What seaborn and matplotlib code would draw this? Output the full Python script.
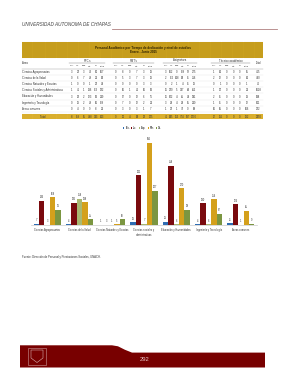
import numpy as np
import pandas as pd
import matplotlib
matplotlib.use("Agg")
import matplotlib.pyplot as plt
import seaborn as sns
from matplotlib.patches import Rectangle, Polygon

# ---------------- data ----------------
areas = ["Ciencias Agropecuarias", "Ciencias de la Salud", "Ciencias Naturales y Exactas",
         "Ciencias Sociales y Administrativas", "Educación y Humanidades",
         "Ingeniería y Tecnología", "Áreas comunes"]
area_ticks = ["Ciencias Agropecuarias", "Ciencias de la Salud", "Ciencias Naturales y Exactas",
              "Ciencias sociales y\nadministrativas", "Educación y Humanidades",
              "Ingeniería y Tecnología", "Áreas comunes"]
niveles = ["Tec.", "Lic.", "Esp.", "Mtr.", "Dr."]
tec = [7, 4, 1, 18, 21, 4, 11]
lic = [146, 135, 3, 301, 358, 130, 126]
esp = [3, 158, 1, 7, 6, 6, 1]
mtr = [168, 138, 5, 495, 220, 154, 85]
dr = [91, 35, 36, 207, 93, 67, 9]
colors = ["#2f6db3", "#7a0a0e", "#a9b872", "#d4a01c", "#7b9641"]

# table (Tec, Lic, Esp, Mtr, Dr) per area
ptc_rows = [[3, 22, 3, 43, 36], [0, 6, 7, 48, 21], [1, 0, 0, 1, 22], [1, 41, 1, 136, 113],
            [3, 28, 2, 123, 63], [0, 18, 2, 48, 50], [0, 4, 0, 9, 8]]
pmt_rows = [[0, 8, 0, 7, 3], [0, 5, 3, 7, 3], [0, 0, 0, 0, 3], [0, 10, 1, 42, 10],
            [0, 57, 0, 12, 6], [0, 7, 0, 12, 2], [0, 3, 0, 3, 1]]
asig_rows = [[3, 102, 0, 118, 52], [2, 112, 148, 83, 11], [0, 2, 1, 4, 11], [16, 230, 5, 317, 84],
             [16, 262, 4, 85, 24], [3, 94, 4, 94, 15], [1, 23, 1, 73, 0]]
ta_rows = [[1, 14, 0, 0, 0], [2, 12, 0, 0, 0], [0, 1, 0, 0, 0], [1, 20, 0, 0, 0],
           [2, 11, 0, 0, 0], [1, 11, 0, 0, 0], [10, 96, 0, 0, 0]]
group_names = ["PTC's", "PMT's", "Asignatura", "Técnico académico"]
sub_headers = ["Tec.", "Lic.", "Esp.", "Mtr.", "Dr.", "Total"]

# ---------------- figure ----------------
W, H = 291, 380
fig = plt.figure(figsize=(W / 100, H / 100), dpi=100)
fig.patch.set_facecolor("white")
FONT = ["Liberation Sans", "DejaVu Sans"]

page = fig.add_axes([0, 0, 1, 1])
page.set_xlim(0, W)
page.set_ylim(H, 0)
page.axis("off")

# header
page.text(22, 27.5, "UNIVERSIDAD AUTONOMA DE CHIAPAS", fontsize=3.3, style="italic",
          color="#404040", family=FONT, va="bottom", ha="left")
page.plot([112, 277], [28.6, 28.6], color="#b08080", lw=0.6)

# banner
page.add_patch(Rectangle((21.7, 41.7), 241.3, 16.6, facecolor="#c9a01d", edgecolor="none"))
for xs in np.arange(22.5, 263, 2.2):
    page.plot([xs, xs], [41.8, 58.2], color="#b38c14", lw=0.25, alpha=0.6)
page.text(143, 47.5, "Personal Académico por Tiempo de dedicación y nivel de estudios",
          fontsize=2.2, weight="bold", color="#2a1e00", family=FONT, ha="center", va="center")
page.text(143, 51.7, "Enero - Junio 2015", fontsize=2.2, weight="bold", color="#2a1e00",
          family=FONT, ha="center", va="center")

# table columns
col_x = [[72, 78, 84, 90, 96, 102],
         [116, 123, 130, 137, 144, 151],
         [166, 171.5, 177, 182.5, 188, 194],
         [214, 220.5, 227, 233.5, 240, 247]]
total_x = 258.5
page.text(22, 63.5, "Área", fontsize=2, family=FONT, color="#333", va="center")
for g, name in enumerate(group_names):
    cx = (col_x[g][0] + col_x[g][-1]) / 2
    page.text(cx, 60.5, name, fontsize=2, family=FONT, color="#333", ha="center", va="center")
    page.plot([col_x[g][0] - 3, col_x[g][-1] + 3], [62.6, 62.6], color="#777", lw=0.3)
    for c, sh in enumerate(sub_headers):
        page.text(col_x[g][c], 66, sh, fontsize=1.7, family=FONT, color="#333",
                  ha="center", va="center")
page.text(total_x, 63.5, "Total", fontsize=1.8, family=FONT, color="#333", ha="center", va="center")
page.plot([21.7, 263], [68.6, 68.6], color="#999", lw=0.3)

groups = [ptc_rows, pmt_rows, asig_rows, ta_rows]
for r, area in enumerate(areas):
    y = 72.3 + 6.05 * r
    page.text(22, y, area, fontsize=1.9, family=FONT, color="#333", va="center")
    row_total = 0
    for g, rows in enumerate(groups):
        vals = list(rows[r]) + [sum(rows[r])]
        row_total += sum(rows[r])
        for c, v in enumerate(vals):
            page.text(col_x[g][c], y, str(v), fontsize=1.9, family=FONT, color="#333",
                      ha="center", va="center")
    page.text(total_x, y, str(row_total), fontsize=1.9, family=FONT, color="#333",
              ha="center", va="center")
    page.plot([21.7, 263], [y + 3, y + 3], color="#dddddd", lw=0.25)

# total row
page.add_patch(Rectangle((21.7, 114), 241.3, 5.4, facecolor="#dcb12f", edgecolor="none"))
for xs in np.arange(22.5, 263, 2.2):
    page.plot([xs, xs], [114.1, 119.3], color="#c49a1c", lw=0.25, alpha=0.6)
page.text(43, 116.7, "Total", fontsize=1.9, family=FONT, color="#333", ha="center", va="center")
grand = 0
for g, rows in enumerate(groups):
    arr = np.array(rows)
    vals = list(arr.sum(axis=0)) + [arr.sum()]
    grand += arr.sum()
    for c, v in enumerate(vals):
        page.text(col_x[g][c], 116.7, str(int(v)), fontsize=1.9, family=FONT, color="#333",
                  ha="center", va="center")
page.text(total_x, 116.7, str(int(grand)), fontsize=1.9, family=FONT, color="#333",
          ha="center", va="center")

# source
page.text(22, 257, "Fuente: Dirección de Personal y Prestaciones Sociales, UNACH.",
          fontsize=2, family=FONT, color="#333", va="center")

# footer
page.add_patch(Polygon([(20, 345.3), (112, 345.3), (118, 346.3), (125, 349.8), (132, 352.6),
                        (265, 352.6), (265, 367.5), (20, 367.5)], closed=True,
                       facecolor="#780000", edgecolor="none"))
page.add_patch(Rectangle((28, 347.5), 18, 17, facecolor="none", edgecolor="#c99a9a", lw=0.4))
page.add_patch(Polygon([(31, 350), (43, 350), (43, 358), (37, 362.5), (31, 358)], closed=True,
                       facecolor="none", edgecolor="#d8b0b0", lw=0.4))
page.text(145, 359.5, "292", fontsize=4.2, family=FONT, color="#e8c4c4", ha="center", va="center")

# ---------------- bar chart ----------------
df = pd.DataFrame({
    "area": np.repeat(area_ticks, len(niveles)),
    "nivel": niveles * len(areas),
    "valor": np.ravel(np.column_stack([tec, lic, esp, mtr, dr])),
})
ax = fig.add_axes([31 / W, 1 - 225 / H, 226 / W, 93 / H])
ax.patch.set_alpha(0)
sns.barplot(data=df, x="area", y="valor", hue="nivel", order=area_ticks, hue_order=niveles,
            palette=colors, width=0.84, ax=ax, saturation=1, legend=True,
            linewidth=0, err_kws={"linewidth": 0})
ax.set_ylim(0, 560)
ax.set_xlim(-0.5, 6.5)
for cont in ax.containers:
    ax.bar_label(cont, fontsize=1.8, padding=1, color="#333", family=FONT)
for s in ["top", "right", "left"]:
    ax.spines[s].set_visible(False)
ax.spines["bottom"].set_color("#cccccc")
ax.spines["bottom"].set_linewidth(0.5)
ax.set_yticks([])
ax.set_xlabel("")
ax.set_ylabel("")
ax.tick_params(axis="x", length=0, pad=2.5, labelsize=1.8, labelcolor="#333")
for t in ax.get_xticklabels():
    t.set_family(FONT)
leg = ax.legend(loc="center", bbox_to_anchor=(142 / W, 1 - 128 / H), bbox_transform=fig.transFigure,
                ncol=5, fontsize=1.8, frameon=False, handlelength=0.5, handleheight=0.5,
                handletextpad=0.3, columnspacing=0.6)

fig.savefig("out.png", dpi=100)
